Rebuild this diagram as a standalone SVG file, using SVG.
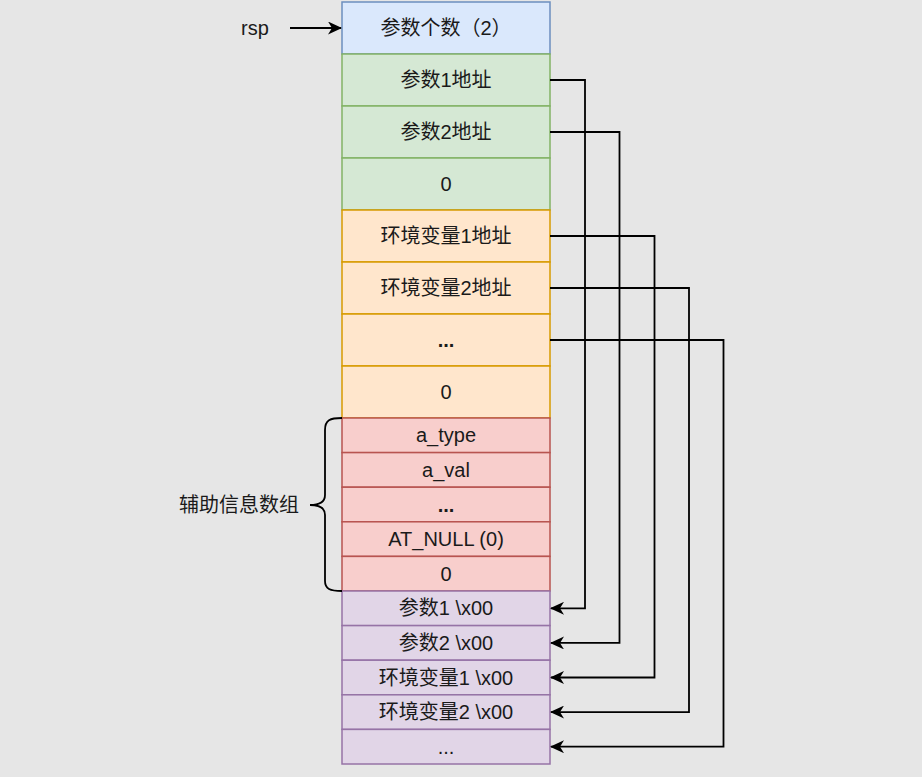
<svg xmlns="http://www.w3.org/2000/svg" width="922" height="777" viewBox="0 0 922 777">
<style>
text{font-family:"Liberation Sans","Noto Sans CJK SC",sans-serif;font-size:20px;fill:#1a1a1a;text-anchor:middle;dominant-baseline:central}
.b{fill:#dae8fc;stroke:#6c8ebf;stroke-width:1.5}
.g{fill:#d5e8d4;stroke:#82b366;stroke-width:1.5}
.o{fill:#ffe6cc;stroke:#d79b00;stroke-width:1.5}
.r{fill:#f8cecc;stroke:#b85450;stroke-width:1.5}
.p{fill:#e1d5e7;stroke:#9673a6;stroke-width:1.5}
.c{fill:none;stroke:#000;stroke-width:1.8}
.bold{font-weight:bold}
</style>
<defs>
<marker id="ah" viewBox="0 0 14 13" refX="13" refY="6.5" markerWidth="14" markerHeight="13" markerUnits="userSpaceOnUse" orient="auto">
<path d="M0,0 L14,6.5 L0,13 L4,6.5 Z" fill="#000"/>
</marker>
</defs>
<rect width="922" height="777" fill="#e6e6e6"/>
<g id="n0"><rect class="b" x="342" y="2" width="208" height="52"/><text x="446" y="28">参数个数（2）</text></g>
<g id="n1"><rect class="g" x="342" y="54" width="208" height="52"/><text x="446" y="80">参数1地址</text></g>
<g id="n2"><rect class="g" x="342" y="106" width="208" height="52"/><text x="446" y="132">参数2地址</text></g>
<g id="n3"><rect class="g" x="342" y="158" width="208" height="52"/><text x="446" y="184">0</text></g>
<g id="n4"><rect class="o" x="342" y="210" width="208" height="52"/><text x="446" y="236">环境变量1地址</text></g>
<g id="n5"><rect class="o" x="342" y="262" width="208" height="52"/><text x="446" y="288">环境变量2地址</text></g>
<g id="n6"><rect class="o" x="342" y="314" width="208" height="52"/><text class="bold" x="446" y="340">...</text></g>
<g id="n7"><rect class="o" x="342" y="366" width="208" height="52"/><text x="446" y="392">0</text></g>
<g id="n8"><rect class="r" x="342" y="418" width="208" height="34.6"/><text x="446" y="435.3">a_type</text></g>
<g id="n9"><rect class="r" x="342" y="452.6" width="208" height="34.6"/><text x="446" y="469.9">a_val</text></g>
<g id="n10"><rect class="r" x="342" y="487.2" width="208" height="34.6"/><text class="bold" x="446" y="504.5">...</text></g>
<g id="n11"><rect class="r" x="342" y="521.8" width="208" height="34.6"/><text x="446" y="539.1">AT_NULL (0)</text></g>
<g id="n12"><rect class="r" x="342" y="556.4" width="208" height="34.6"/><text x="446" y="573.7">0</text></g>
<g id="n13"><rect class="p" x="342" y="591" width="208" height="34.6"/><text x="446" y="608.3">参数1 \x00</text></g>
<g id="n14"><rect class="p" x="342" y="625.6" width="208" height="34.6"/><text x="446" y="642.9">参数2 \x00</text></g>
<g id="n15"><rect class="p" x="342" y="660.2" width="208" height="34.6"/><text x="446" y="677.5">环境变量1 \x00</text></g>
<g id="n16"><rect class="p" x="342" y="694.8" width="208" height="34.6"/><text x="446" y="712.1">环境变量2 \x00</text></g>
<g id="n17"><rect class="p" x="342" y="729.4" width="208" height="34.6"/><text x="446" y="746.7">...</text></g>
<g id="rsp"><text x="255" y="28">rsp</text></g>
<g id="aux"><text x="299" y="505" style="text-anchor:end">辅助信息数组</text>
<path class="c" d="M342,418 C330,418 325,420 325,430 L325,495 C325,502 320,505 310,505 C320,505 325,508 325,515 L325,581 C325,589 330,591 342,591"/></g>
<g id="connectors">
<path class="c" d="M290,28 L341,28" marker-end="url(#ah)"/>
<path class="c" d="M550,80 L585,80 L585,608.3 L551,608.3" marker-end="url(#ah)"/>
<path class="c" d="M550,132 L619.5,132 L619.5,642.9 L551,642.9" marker-end="url(#ah)"/>
<path class="c" d="M550,236 L654.5,236 L654.5,677.5 L551,677.5" marker-end="url(#ah)"/>
<path class="c" d="M550,288 L689,288 L689,712.1 L551,712.1" marker-end="url(#ah)"/>
<path class="c" d="M550,340 L723.5,340 L723.5,746.7 L551,746.7" marker-end="url(#ah)"/>
</g>
</svg>
